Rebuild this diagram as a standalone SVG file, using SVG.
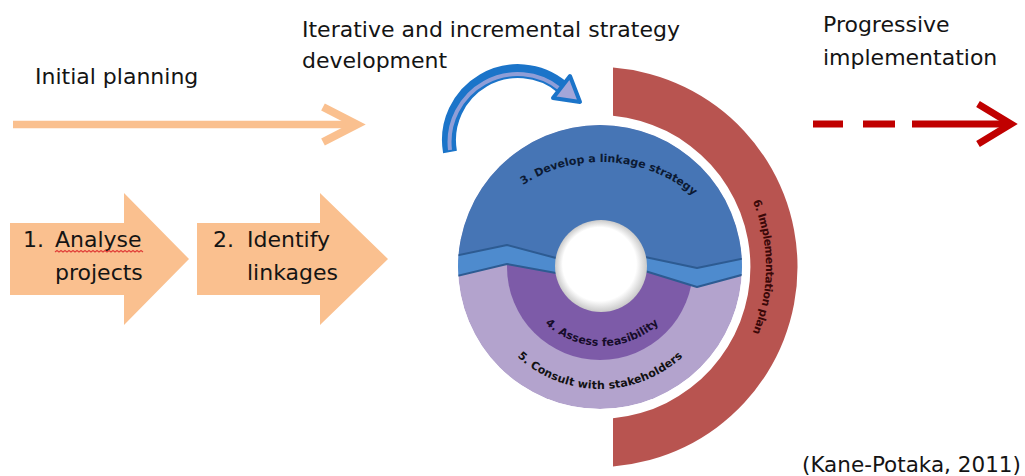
<svg xmlns="http://www.w3.org/2000/svg" width="1025" height="476" viewBox="0 0 1025 476">
  <style>
    .lbl { font-family: "DejaVu Sans", "Liberation Sans", sans-serif; font-size: 22px; fill: #141414; }
    .arc { font-family: "DejaVu Sans", "Liberation Sans", sans-serif; font-size: 11px; font-weight: bold; }
    .orange { fill: #FAC08F; }
    .orangeLine { stroke: #FAC08F; fill: none; }
  </style>
  <defs>
    <clipPath id="disc"><circle cx="600" cy="267" r="142"/></clipPath>
    <radialGradient id="holeGrad" cx="0.5" cy="0.5" r="0.5" fx="0.42" fy="0.4">
      <stop offset="0.8" stop-color="#ffffff"/>
      <stop offset="1" stop-color="#c9c9c9"/>
    </radialGradient>
    <!-- baselines for the curved captions -->
    <path id="pTop" d="M457,306 A144,144 0 0 1 745,306"/>
    <path id="pInner" d="M518,262 A84,84 0 0 0 686,262"/>
    <path id="pOuter" d="M478,267 A122,122 0 0 0 722,267"/>
    <path id="pRing" d="M598,99 A168,168 0 0 1 598,435"/>
  </defs>

  <rect width="1025" height="476" fill="#ffffff"/>

  <!-- headings -->
  <g id="headings">
    <text class="lbl" x="35" y="84">Initial planning</text>
    <text class="lbl" x="302" y="37">Iterative and incremental  strategy</text>
    <text class="lbl" x="302" y="68">development</text>
    <text class="lbl" x="823" y="32">Progressive</text>
    <text class="lbl" x="823" y="65">implementation</text>
  </g>

  <!-- connectors -->
  <g id="connectors">
    <!-- initial planning timeline -->
    <line class="orangeLine" x1="13" y1="124.5" x2="354" y2="124.5" stroke-width="7.5"/>
    <polyline class="orangeLine" points="323,107 357,124.5 323,142" stroke-width="8"/>
    <!-- progressive implementation timeline -->
    <path d="M813,124 H1007" stroke="#C00000" stroke-width="7" fill="none" stroke-dasharray="30 20 32 17 200"/>
    <polyline points="978,104 1011,124 978,144" stroke="#C00000" stroke-width="7" fill="none"/>
    <!-- iteration arrow -->
    <g id="iterate">
      <path d="M450,152 A69,69 0 0 1 562,87" stroke="#1B74C9" stroke-width="14" fill="none"/>
      <path d="M450,150 A68,68 0 0 1 560,89" stroke="#A3A6D9" stroke-width="4" fill="none" opacity="0.85"/>
      <polygon points="570,76 580,102 553,98" fill="#A3A6D9" stroke="#1B74C9" stroke-width="4" stroke-linejoin="round"/>
    </g>
  </g>

  <!-- step 1 -->
  <g id="step1">
    <polygon class="orange" points="10,223 124,223 124,193 189,259 124,325 124,295 10,295"/>
    <text class="lbl" x="23" y="247">1.</text>
    <text class="lbl" x="55" y="247">Analyse</text>
    <path d="M55,252 l2,-1.5 l2,1.5 l2,-1.5 l2,1.5 l2,-1.5 l2,1.5 l2,-1.5 l2,1.5 l2,-1.5 l2,1.5 l2,-1.5 l2,1.5 l2,-1.5 l2,1.5 l2,-1.5 l2,1.5 l2,-1.5 l2,1.5 l2,-1.5 l2,1.5 l2,-1.5 l2,1.5 l2,-1.5 l2,1.5 l2,-1.5 l2,1.5 l2,-1.5 l2,1.5 l2,-1.5 l2,1.5 l2,-1.5 l2,1.5 l2,-1.5 l2,1.5 l2,-1.5 l2,1.5 l2,-1.5 l2,1.5 l2,-1.5 l2,1.5 l2,-1.5 l2,1.5 l2,-1.5 l2,1.5" stroke="#E0403A" stroke-width="1.2" fill="none"/>
    <text class="lbl" x="55" y="280">projects</text>
  </g>

  <!-- step 2 -->
  <g id="step2">
    <polygon class="orange" points="197,223 320,223 320,193 388,259 320,325 320,295 197,295"/>
    <text class="lbl" x="213" y="247">2.</text>
    <text class="lbl" x="247" y="247">Identify</text>
    <text class="lbl" x="247" y="280">linkages</text>
  </g>

  <!-- strategy cycle -->
  <g id="cycle">
    <g clip-path="url(#disc)">
      <circle cx="600" cy="267" r="142" fill="#B3A3CD"/>
      <circle cx="600" cy="267" r="93" fill="#7D5BA8"/>
      <polygon fill="#4675B5" points="440,110 760,110 760,255 745,258 697,268 645,257 556,258 507,245 455,256 440,259"/>
      <polygon fill="#4E8BCE" stroke="#2D5B92" stroke-width="2" stroke-linejoin="round"
        points="440,259 507,245 556,258 645,257 697,268 760,255 760,270 697,287 645,271 556,273 507,264 440,280"/>
    </g>
    <circle cx="601" cy="266" r="46" fill="url(#holeGrad)"/>
    <text class="arc" fill="#0C1A33"><textPath href="#pTop" startOffset="52%" text-anchor="middle" textLength="183" lengthAdjust="spacing">3. Develop a linkage strategy</textPath></text>
    <text class="arc" fill="#160C2A"><textPath href="#pInner" startOffset="50%" text-anchor="middle" textLength="125" lengthAdjust="spacing">4. Assess feasibility</textPath></text>
    <text class="arc" fill="#111111"><textPath href="#pOuter" startOffset="50%" text-anchor="middle" textLength="182" lengthAdjust="spacing">5. Consult with stakeholders</textPath></text>
  </g>

  <!-- implementation ring -->
  <g id="implementation">
    <path d="M613,67.6 A200,200 0 0 1 613,466.4 L613,418.3 A152,152 0 0 0 613,115.7 Z" fill="#B85450"/>
    <text class="arc" fill="#3A0808"><textPath href="#pRing" startOffset="50%" text-anchor="middle" textLength="135" lengthAdjust="spacing">6. Implementation plan</textPath></text>
  </g>

  <text id="source" class="lbl" x="802" y="472" style="font-size:21.5px">(Kane-Potaka, 2011)</text>
</svg>
